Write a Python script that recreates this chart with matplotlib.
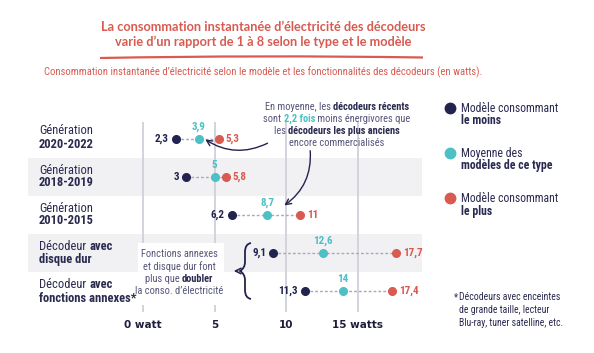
import matplotlib
matplotlib.use("Agg")
import matplotlib.pyplot as plt
from matplotlib import font_manager as fm
from matplotlib.patches import Rectangle
from matplotlib.path import Path
from matplotlib.patches import PathPatch

# data
rows = ["2020-2022", "2018-2019", "2010-2015", "disque", "fonctions"]
conso_min = [2.3, 3, 6.2, 9.1, 11.3]
conso_moy = [3.9, 5, 8.7, 12.6, 14]
conso_max = [5.3, 5.8, 11, 17.7, 17.4]
ticks = [0, 5, 10, 15]
tick_labels = ["0 watt", "5", "10", "15 watts"]

NAVY = "#23234f"
TEAL = "#4cc0c5"
RED = "#d95a50"
GREY = "#55557a"
TXT = "#2a2a50"

names = {f.name for f in fm.fontManager.ttflist}
cond = next((n for n in ["Roboto Condensed", "Liberation Sans Narrow", "Open Sans Condensed"]
             if n in names), "Roboto")
plt.rcParams["font.family"] = [cond, "DejaVu Sans"]

fig = plt.figure(figsize=(5.94, 3.53), dpi=100)
ov = fig.add_axes([0, 0, 1, 1], zorder=5)
ov.set_xlim(0, 594)
ov.set_ylim(353, 0)
ov.axis("off")
ov.patch.set_alpha(0)

ax = fig.add_axes([28 / 594, 1 - 312 / 353, (421.7 - 28) / 594, (312 - 122) / 353])
ax.set_xlim((28 - 143) / 14.3, (421.7 - 143) / 14.3)
ax.set_ylim(4.55, -0.45)
for s in ax.spines.values():
    s.set_visible(False)
ax.set_yticks([])
ax.set_xticks(ticks, tick_labels, fontweight="bold", fontsize=7.5,
              family=["DejaVu Sans"], color="#1e1e3c")
ax.tick_params(axis="x", length=0, pad=6)
ax.grid(axis="x", color="#d3d3dc", lw=1.4, zorder=1)
ax.set_axisbelow(True)
for i in (1, 3):
    ax.axhspan(i - 0.5, i + 0.5, color="#f1f1f4", zorder=0, lw=0)

def fmt(v):
    return ("%g" % v).replace(".", ",")

for i in range(len(rows)):
    ax.plot([conso_min[i], conso_max[i]], [i, i], color="#a8a8b8", lw=1,
            dashes=(2, 1.5), zorder=2)
    ax.plot(conso_min[i], i, "o", color=NAVY, ms=5.5, zorder=3)
    ax.plot(conso_moy[i], i, "o", color=TEAL, ms=5.5, zorder=3)
    ax.plot(conso_max[i], i, "o", color=RED, ms=5.5, zorder=3)
    ax.annotate(fmt(conso_min[i]), (conso_min[i], i), xytext=(-5, 0), textcoords="offset points",
                ha="right", va="center", fontsize=8, fontweight="bold", color=NAVY)
    ax.annotate(fmt(conso_moy[i]), (conso_moy[i], i), xytext=(0, 9), textcoords="offset points",
                ha="center", va="center", fontsize=8, fontweight="bold", color=TEAL)
    ax.annotate(fmt(conso_max[i]), (conso_max[i], i), xytext=(5, 0), textcoords="offset points",
                ha="left", va="center", fontsize=8, fontweight="bold", color=RED)

renderer = fig.canvas.get_renderer()

def width(s, size, weight):
    t1 = ov.text(0, 0, s + "|", fontsize=size, fontweight=weight)
    t2 = ov.text(0, 0, "|", fontsize=size, fontweight=weight)
    w = t1.get_window_extent(renderer).width - t2.get_window_extent(renderer).width
    t1.remove()
    t2.remove()
    return w

def rich(x, y, parts, ha="left", size=8):
    ws = [width(s, size, w) for s, w, c in parts]
    cx = x - sum(ws) / 2 if ha == "center" else x
    for (s, w, c), wd in zip(parts, ws):
        ov.text(cx, y, s, fontsize=size, fontweight=w, color=c, ha="left", va="center")
        cx += wd

# title
ov.text(263, 27, "La consommation instantanée d’électricité des décodeurs", ha="center", va="center",
        fontsize=9.2, fontweight="bold", color=RED, family=["Lato", "DejaVu Sans"])
ov.text(263, 42, "varie d’un rapport de 1 à 8 selon le type et le modèle", ha="center", va="center",
        fontsize=9.2, fontweight="bold", color=RED, family=["Lato", "DejaVu Sans"])
ov.add_patch(PathPatch(Path([(100, 58), (262, 55), (423, 57.5)], [Path.MOVETO, Path.CURVE3, Path.CURVE3]),
                       fill=False, ec=RED, lw=1.6))
ov.text(263, 72, "Consommation instantanée d’électricité selon le modèle et les fonctionnalités des décodeurs (en watts).",
        ha="center", va="center", fontsize=7.7, color=RED)

# row labels
row_y = [139, 177, 215, 253, 291]
rich(39, row_y[0] - 8, [("Génération", "normal", TXT)], size=9)
rich(39, row_y[0] + 5, [("2020-2022", "bold", TXT)], size=9)
rich(39, row_y[1] - 7, [("Génération", "normal", TXT)], size=9)
rich(39, row_y[1] + 6, [("2018-2019", "bold", TXT)], size=9)
rich(39, row_y[2] - 7, [("Génération", "normal", TXT)], size=9)
rich(39, row_y[2] + 6, [("2010-2015", "bold", TXT)], size=9)
rich(39, row_y[3] - 7, [("Décodeur ", "normal", TXT), ("avec", "bold", TXT)], size=9)
rich(39, row_y[3] + 6.5, [("disque dur", "bold", TXT)], size=9)
rich(39, row_y[4] - 6.5, [("Décodeur ", "normal", TXT), ("avec", "bold", TXT)], size=9)
rich(39, row_y[4] + 7, [("fonctions annexes*", "bold", TXT)], size=9)

# top annotation
rich(337, 107, [("En moyenne, les ", "normal", GREY), ("décodeurs récents", "bold", TXT)], "center", 7.5)
rich(337, 119, [("sont ", "normal", GREY), ("2,2 fois", "bold", TEAL), (" moins énergivores que", "normal", GREY)], "center", 7.5)
rich(337, 131, [("les ", "normal", GREY), ("décodeurs les plus anciens", "bold", TXT)], "center", 7.5)
rich(337, 143, [("encore commercialisés", "normal", GREY)], "center", 7.5)
ov.annotate("", xy=(203, 138), xytext=(270, 142),
            arrowprops=dict(arrowstyle="->", color=NAVY, lw=1, connectionstyle="arc3,rad=-0.3"))
ov.annotate("", xy=(282, 207), xytext=(310, 148),
            arrowprops=dict(arrowstyle="->", color=NAVY, lw=1, connectionstyle="arc3,rad=-0.3"))

# bottom annotation
ov.add_patch(Rectangle((138, 243), 86, 62, fc="white", ec="none", zorder=0))
rich(179, 254, [("Fonctions annexes", "normal", GREY)], "center", 7.5)
rich(179, 266.5, [("et disque dur font", "normal", GREY)], "center", 7.5)
rich(179, 279, [("plus que ", "normal", GREY), ("doubler", "bold", TXT)], "center", 7.5)
rich(179, 291, [("la conso. d’électricité", "normal", GREY)], "center", 7.5)
brace = Path([(251, 243), (245, 244), (245, 252), (245, 262), (245, 268), (240, 271),
              (245, 274), (245, 280), (245, 290), (245, 298), (251, 299)],
             [Path.MOVETO, Path.CURVE3, Path.CURVE3, Path.LINETO, Path.CURVE3, Path.CURVE3,
              Path.CURVE3, Path.CURVE3, Path.LINETO, Path.CURVE3, Path.CURVE3])
ov.add_patch(PathPatch(brace, fill=False, ec=NAVY, lw=1.3))
ov.annotate("", xy=(231, 271), xytext=(240, 271),
            arrowprops=dict(arrowstyle="->", color=NAVY, lw=1.1))

# legend
leg = [(108, NAVY, "Modèle consommant", "le moins"),
       (153, TEAL, "Moyenne des", "modèles de ce type"),
       (198, RED, "Modèle consommant", "le plus")]
for y, c, l1, l2 in leg:
    ov.plot(450, y, "o", color=c, ms=7.5)
    rich(461, y, [(l1, "normal", TXT)], size=8.5)
    rich(461, y + 13, [(l2, "bold", TXT)], size=8.5)

# footnote
ov.text(454, 297, "*", fontsize=7, color=TXT, ha="left", va="center")
rich(459, 297, [("Décodeurs avec enceintes", "normal", TXT)], size=7)
rich(459, 310, [("de grande taille, lecteur", "normal", TXT)], size=7)
rich(459, 323, [("Blu-ray, tuner satelline, etc.", "normal", TXT)], size=7)

fig.savefig("out.png", dpi=100)
